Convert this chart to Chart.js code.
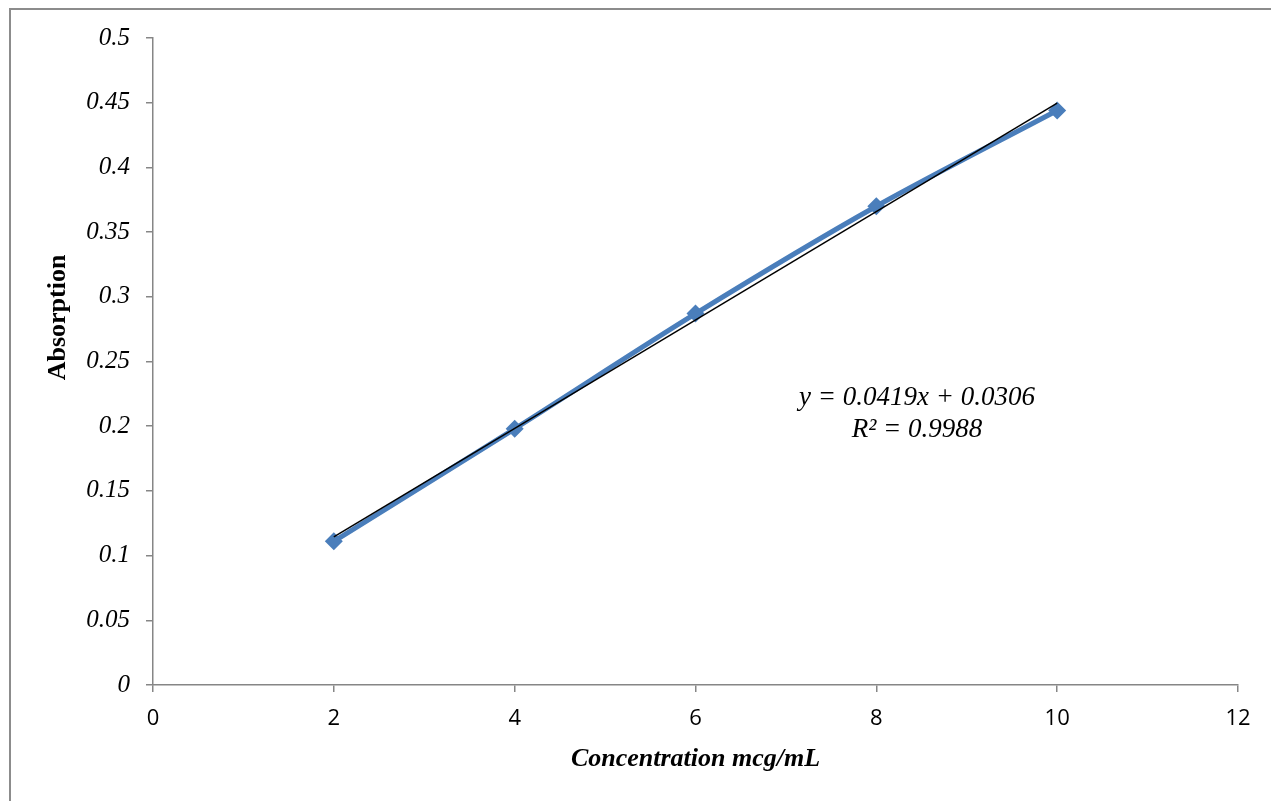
<!DOCTYPE html>
<html>
<head>
<meta charset="utf-8">
<title>Absorption vs Concentration</title>
<script src="https://cdn.jsdelivr.net/npm/chart.js@4/dist/chart.umd.min.js"></script>
<style>
    html, body { margin: 0; padding: 0; background: #ffffff; overflow: hidden; }
    #frame {
        position: absolute; left: 9px; top: 8px;
        width: 1400px; height: 900px;
        border: 2px solid #8c8c8c;
    }
    #chart { position: absolute; left: 0; top: 0; }
</style>
</head>
<body>
<div id="frame"></div>
<canvas id="chart" width="1271" height="801"></canvas>
<script>
// Data
const concentration = [2, 4, 6, 8, 10];
const absorption = [0.111, 0.198, 0.287, 0.370, 0.444];

// Linear trendline ends (x = 2 .. 10)
const trendX = [2, 10];
const trendY = [0.1144, 0.4496];

const xTicks = [0, 2, 4, 6, 8, 10, 12];
const yTickLabels = ['0', '0.05', '0.1', '0.15', '0.2', '0.25', '0.3', '0.35', '0.4', '0.45', '0.5'];

const equationLines = ['y = 0.0419x + 0.0306', 'R\u00B2 = 0.9988'];
const yTitle = 'Absorption';

const axisGrey = '#868686';
const serif = "'Liberation Serif', 'Times New Roman', serif";

// Equation label and y title (the title sits above the axis middle, as in Excel)
const extraText = {
    id: 'extraText',
    afterDraw(chart) {
        const { ctx, scales } = chart;
        const x = scales.x.getPixelForValue(8.45);
        const y = scales.y.getPixelForValue(0.222);
        ctx.save();
        ctx.font = 'italic 27px ' + serif;
        ctx.fillStyle = '#000000';
        ctx.textAlign = 'center';
        ctx.textBaseline = 'middle';
        equationLines.forEach((line, i) => {
            ctx.fillText(line, x, y + i * 32);
        });

        ctx.font = 'bold 26px ' + serif;
        ctx.translate(58, scales.y.getPixelForValue(0.284));
        ctx.rotate(-Math.PI / 2);
        ctx.fillText(yTitle, 0, 0);
        ctx.restore();
    }
};

new Chart(document.getElementById('chart'), {
    type: 'line',
    data: {
        datasets: [
            {
                label: 'Linear',
                data: trendX.map((x, i) => ({ x: x, y: trendY[i] })),
                borderColor: '#000000',
                borderWidth: 1.5,
                pointRadius: 0,
                tension: 0
            },
            {
                label: 'Absorption',
                data: concentration.map((x, i) => ({ x: x, y: absorption[i] })),
                borderColor: '#4a7ebb',
                backgroundColor: '#4a7ebb',
                borderWidth: 5,
                tension: 0.3,
                pointStyle: 'rectRot',
                pointRadius: 9,
                pointBorderWidth: 0
            }
        ]
    },
    options: {
        responsive: false,
        animation: false,
        devicePixelRatio: 1,
        layout: { padding: { top: 38, right: 33, bottom: 0, left: 0 } },
        plugins: {
            legend: { display: false },
            tooltip: { enabled: false }
        },
        scales: {
            x: {
                type: 'linear',
                min: 0,
                max: 12,
                afterBuildTicks(scale) {
                    scale.ticks = xTicks.map(v => ({ value: v }));
                },
                afterFit(scale) { scale.height = 116; },
                grid: { drawOnChartArea: false, color: axisGrey, tickLength: 7, lineWidth: 1.5 },
                border: { color: axisGrey, width: 1.5 },
                ticks: {
                    color: '#000000',
                    padding: 14,
                    font: { family: "'Open Sans', 'Noto Sans', sans-serif", size: 22 }
                },
                title: {
                    display: true,
                    text: 'Concentration mcg/mL',
                    color: '#000000',
                    font: { family: serif, size: 26, style: 'italic', weight: 'bold' },
                    padding: { top: 0, bottom: 26 }
                }
            },
            y: {
                type: 'linear',
                min: 0,
                max: 0.5,
                afterBuildTicks(scale) {
                    scale.ticks = yTickLabels.map(t => ({ value: parseFloat(t) }));
                },
                afterFit(scale) { scale.width = 153; },
                grid: { drawOnChartArea: false, color: axisGrey, tickLength: 7, lineWidth: 1.5 },
                border: { color: axisGrey, width: 1.5 },
                ticks: {
                    color: '#000000',
                    padding: 16,
                    font: { family: serif, size: 25, style: 'italic' },
                    callback: function(value, index) { return yTickLabels[index]; }
                }
            }
        }
    },
    plugins: [extraText]
});
</script>
</body>
</html>
